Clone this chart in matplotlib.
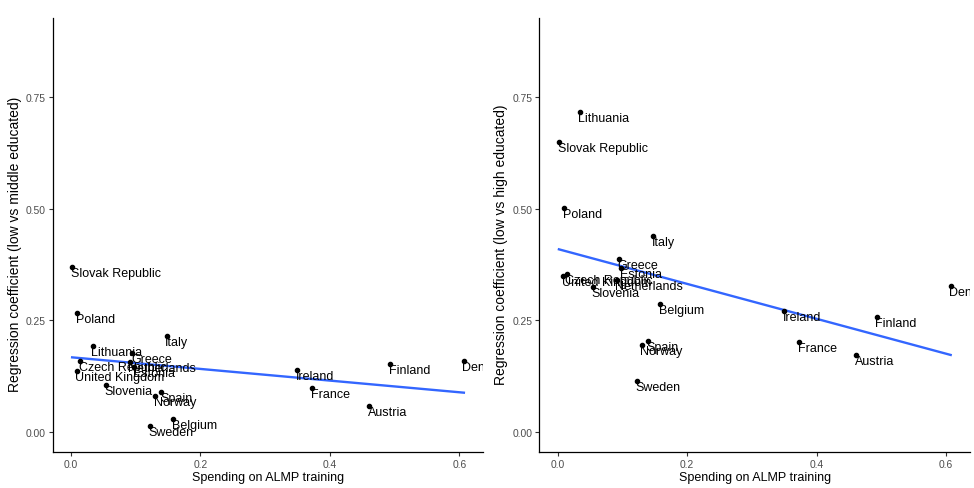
import numpy as np
import matplotlib
matplotlib.use("Agg")
import matplotlib.pyplot as plt

plt.rcParams['font.family'] = ['Liberation Sans', 'DejaVu Sans']

countries = ["Slovak Republic", "Poland", "Lithuania", "United Kingdom", "Czech Republic",
             "Slovenia", "Greece", "Netherlands", "Estonia", "Sweden", "Norway", "Spain",
             "Italy", "Belgium", "Ireland", "France", "Austria", "Finland", "Denmark"]
spending = [0.002, 0.010, 0.034, 0.009, 0.014,
            0.054, 0.095, 0.091, 0.098, 0.122, 0.130, 0.140,
            0.148, 0.158, 0.350, 0.373, 0.461, 0.493, 0.607]
coef_middle = [0.370, 0.266, 0.192, 0.137, 0.159,
               0.105, 0.176, 0.156, 0.145, 0.013, 0.081, 0.090,
               0.215, 0.029, 0.139, 0.098, 0.058, 0.153, 0.159]
coef_high = [0.648, 0.502, 0.716, 0.350, 0.354,
             0.325, 0.387, 0.340, 0.368, 0.115, 0.196, 0.204,
             0.438, 0.286, 0.271, 0.202, 0.173, 0.258, 0.327]

y_ticks = [0.00, 0.25, 0.50, 0.75]
x_ticks = [0.0, 0.2, 0.4, 0.6]

fig = plt.figure(figsize=(9.74, 4.89), dpi=100)
ax_l = fig.add_axes([0.0541, 0.0730, 0.4421, 0.8881])
ax_r = fig.add_axes([0.5539, 0.0730, 0.4421, 0.8881])


def scatter_panel(ax, x, y, ylabel):
    x = np.asarray(x)
    y = np.asarray(y)
    # linear fit, as geom_smooth(method = "lm")
    slope, intercept = np.polyfit(x, y, 1)
    xs = np.linspace(x.min(), x.max(), 50)
    ax.plot(xs, intercept + slope * xs, color='#3366FF', lw=1.7, zorder=2)
    ax.plot(x, y, 'o', color='black', ms=3, zorder=3)
    for name, xi, yi in zip(countries, x, y):
        ax.annotate(name, (xi, yi), xytext=(-1, 0), textcoords='offset points',
                    ha='left', va='top', fontsize=9, color='black',
                    annotation_clip=False, clip_on=True, zorder=4)

    ax.set_xlim(-0.028, 0.637)
    ax.set_ylim(-0.045, 0.926)
    ax.set_xticks(x_ticks)
    ax.set_xticklabels([f"{t:.1f}" for t in x_ticks])
    ax.set_yticks(y_ticks)
    ax.set_yticklabels([f"{t:.2f}" for t in y_ticks])
    ax.tick_params(length=3, width=0.8, color='#333333', labelcolor='#4D4D4D',
                   labelsize=7.4, pad=2)
    for side in ['top', 'right']:
        ax.spines[side].set_visible(False)
    for side in ['left', 'bottom']:
        ax.spines[side].set_linewidth(0.9)
        ax.spines[side].set_color('black')

    ax.set_xlabel("Spending on ALMP training", fontsize=9)
    ax.set_ylabel(ylabel, fontsize=10)
    ax.xaxis.set_label_coords(0.5, -0.044)
    ax.yaxis.set_label_coords(-0.072, 0.48)


scatter_panel(ax_l, spending, coef_middle, "Regression coefficient (low vs middle educated)")
scatter_panel(ax_r, spending, coef_high, "Regression coefficient (low vs high educated)")

fig.savefig("out.png", dpi=100)
